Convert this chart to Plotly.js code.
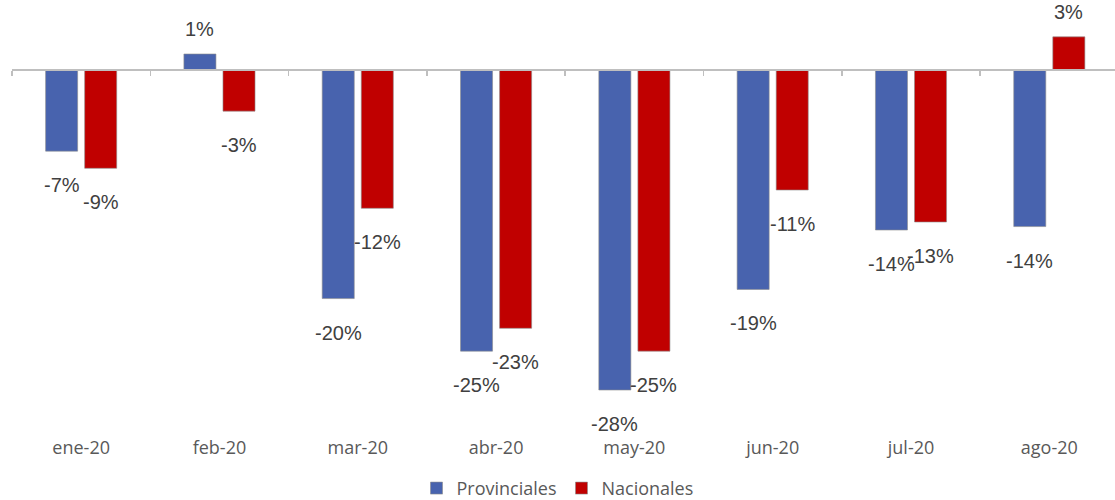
<!DOCTYPE html>
<html>
<head>
<meta charset="utf-8">
<script src="https://cdn.plot.ly/plotly-3.0.1.min.js"></script>
<style>html,body{margin:0;padding:0;background:#fff;}#chart{width:1115px;height:500px;}</style>
</head>
<body>
<div id="chart"></div>
<script>
var categories = ['ene-20','feb-20','mar-20','abr-20','may-20','jun-20','jul-20','ago-20'];
var provinciales = [-7.1, 1.4, -20.0, -24.6, -28.0, -19.2, -14.0, -13.7];
var nacionales = [-8.6, -3.6, -12.1, -22.6, -24.6, -10.5, -13.3, 2.9];
var provLabels = ['-7%','1%','-20%','-25%','-28%','-19%','-14%','-14%'];
var nacLabels = ['-9%','-3%','-12%','-23%','-25%','-11%','-13%','3%'];

var yMin = -31.5, yMax = 5.25;
var zeroPos = (0 - yMin) / (yMax - yMin);
var xRange = [-0.5, 7.475];

var traces = [
  {type:'bar', name:'Provinciales', x:categories, y:provinciales,
   marker:{color:'#4863AE', line:{color:'rgba(140,140,140,0.6)', width:1}}, hoverinfo:'skip'},
  {type:'bar', name:'Nacionales', x:categories, y:nacionales,
   marker:{color:'#C00000', line:{color:'rgba(140,140,140,0.6)', width:1}}, hoverinfo:'skip'},
  {type:'scatter', x:categories, y:categories.map(function(){return 0;}), xaxis:'x2', mode:'none',
   showlegend:false, hoverinfo:'skip'}
];

var annotations = [];
function addLabels(vals, labels, shiftX) {
  vals.forEach(function(v, i) {
    annotations.push({x:categories[i], y:v, xref:'x', yref:'y', text:labels[i], showarrow:false,
      xshift:shiftX, yshift: v < 0 ? -34 : 25, yanchor:'middle',
      font:{family:'Liberation Sans, Arial, sans-serif', size:20, color:'#404040'}});
  });
}
addLabels(provinciales, provLabels, -19.5);
addLabels(nacionales, nacLabels, 19.5);

var layout = {
  width:1115, height:500,
  margin:{l:12, r:0, t:10, b:70, autoexpand:false},
  paper_bgcolor:'#ffffff', plot_bgcolor:'#ffffff',
  barmode:'group', bargap:0.435, bargroupgap:0.18,
  showlegend:true,
  legend:{orientation:'h', x:0.5, xanchor:'center', xref:'container', y:-0.095, yanchor:'top', yref:'paper',
    font:{family:'Open Sans, sans-serif', size:18, color:'#595959'}, itemwidth:30, tracegroupgap:0},
  xaxis:{type:'category', categoryorder:'array', categoryarray:categories, range:xRange,
    showline:false, ticks:'', showgrid:false, zeroline:false, ticklabelstandoff:5,
    tickfont:{family:'Open Sans, sans-serif', size:18, color:'#595959'}},
  xaxis2:{type:'category', categoryorder:'array', categoryarray:categories, range:xRange,
    overlaying:'x', anchor:'free', position:zeroPos, side:'bottom',
    showline:true, linecolor:'#bfbfbf', linewidth:2, ticks:'outside', tickson:'boundaries',
    ticklen:5, tickcolor:'#bfbfbf', tickwidth:1.5, showticklabels:false, showgrid:false, zeroline:false},
  yaxis:{range:[yMin, yMax], visible:false, showgrid:false, zeroline:false},
  annotations:annotations
};

Plotly.newPlot('chart', traces, layout, {displayModeBar:false, staticPlot:true});
</script>
</body>
</html>
